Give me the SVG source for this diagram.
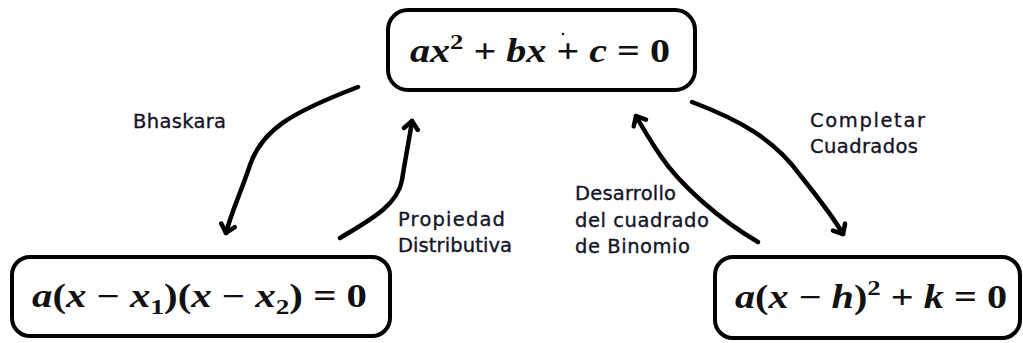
<svg xmlns="http://www.w3.org/2000/svg" width="1023" height="343" viewBox="0 0 1023 343">
  <style>
    .box{fill:#fff;stroke:#000;stroke-width:4;stroke-linejoin:round}
    .math{font-family:"Liberation Serif","DejaVu Serif",serif;font-weight:bold;font-size:33px;fill:#111}
    .v{font-style:italic}
    .lbl{font-family:"DejaVu Sans","Lato",sans-serif;font-size:19.5px;fill:#141428;stroke:#141428;stroke-width:0.35}
    .arr{fill:none;stroke:#000;stroke-width:4.5;stroke-linecap:round}
  </style>
  <defs>
    <marker id="ah" markerUnits="userSpaceOnUse" markerWidth="24" markerHeight="24" viewBox="-12 -12 24 24" refX="0" refY="0" orient="auto">
      <path d="M-8,-7 L0,0 L-8,7" fill="none" stroke="#000" stroke-width="4.5" stroke-linecap="round" stroke-linejoin="round"/>
    </marker>
  </defs>
  <rect width="1023" height="343" fill="#fff"/>

  <g id="connectors">
    <path class="arr" d="M358,87 C290,113 262,130 250,165 C240,195 232,210 226,233" marker-end="url(#ah)"/>
    <path class="arr" d="M340,238 C370,220 398,205 402,180 C406,155 410,135 412,121" marker-end="url(#ah)"/>
    <path class="arr" d="M758,242 C720,220 680,185 660,155 C648,137 641,125 636,116" marker-end="url(#ah)"/>
    <path class="arr" d="M692,102 C740,120 775,140 800,175 C820,200 835,220 843,234" marker-end="url(#ah)"/>
  </g>

  <g id="node-general">
    <rect class="box" x="388" y="10" width="307" height="80" rx="20"/>
    <text class="math" x="410" y="62" textLength="260" lengthAdjust="spacingAndGlyphs"><tspan class="v">ax</tspan><tspan font-size="22" dy="-13">2</tspan><tspan dy="13"> + </tspan><tspan class="v">bx</tspan> + <tspan class="v">c</tspan> = 0</text>
    <circle cx="563" cy="34" r="1.3" fill="#222"/>
  </g>

  <g id="node-factorizada">
    <rect class="box" x="12" y="257" width="378" height="79" rx="18"/>
    <text class="math" x="32" y="307" textLength="335" lengthAdjust="spacingAndGlyphs"><tspan class="v">a</tspan>(<tspan class="v">x</tspan> − <tspan class="v">x</tspan><tspan font-size="22" dy="7">1</tspan><tspan dy="-7">)(</tspan><tspan class="v">x</tspan> − <tspan class="v">x</tspan><tspan font-size="22" dy="7">2</tspan><tspan dy="-7">) = 0</tspan></text>
  </g>

  <g id="node-canonica">
    <rect class="box" x="715" y="257" width="305" height="81" rx="18"/>
    <text class="math" x="735" y="308" textLength="272" lengthAdjust="spacingAndGlyphs"><tspan class="v">a</tspan>(<tspan class="v">x</tspan> − <tspan class="v">h</tspan>)<tspan font-size="22" dy="-13">2</tspan><tspan dy="13"> + </tspan><tspan class="v">k</tspan> = 0</text>
  </g>

  <g id="labels">
    <text class="lbl" x="133" y="128" textLength="93">Bhaskara</text>
    <text class="lbl" x="398" y="226" textLength="107">Propiedad</text>
    <text class="lbl" x="398" y="252" textLength="114">Distributiva</text>
    <text class="lbl" x="575" y="200" textLength="101">Desarrollo</text>
    <text class="lbl" x="575" y="227" textLength="134">del cuadrado</text>
    <text class="lbl" x="575" y="253" textLength="115">de Binomio</text>
    <text class="lbl" x="810" y="127" textLength="115">Completar</text>
    <text class="lbl" x="810" y="153" textLength="108">Cuadrados</text>
  </g>
</svg>
